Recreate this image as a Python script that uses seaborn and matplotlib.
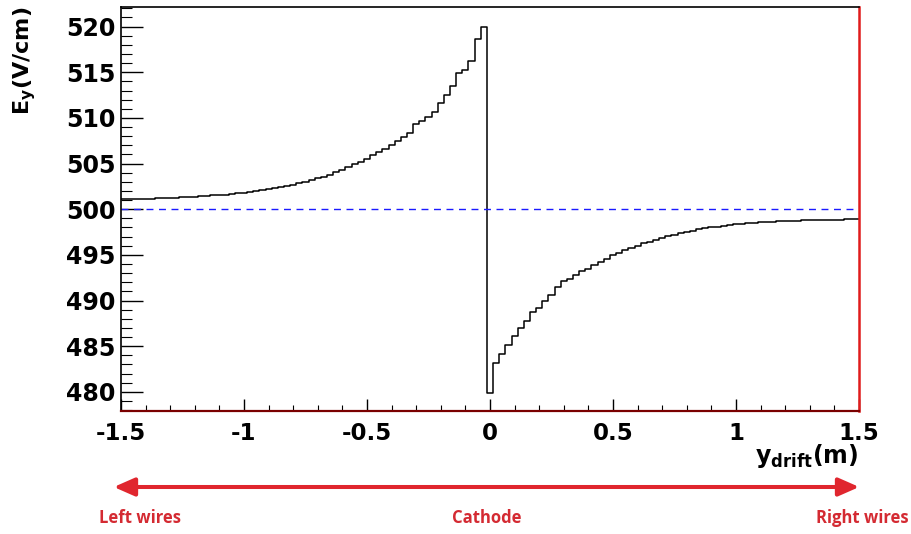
import numpy as np
import pandas as pd
import matplotlib
matplotlib.use("Agg")
import matplotlib.pyplot as plt
import seaborn as sns
from matplotlib.patches import FancyArrowPatch
from matplotlib.ticker import MultipleLocator

# ---- data (bin centres in m, field in V/cm) ----
left_centres = [round(-1.5 + 0.025 * i, 3) for i in range(60)]
left_values = [
    501.10, 501.11, 501.12, 501.13, 501.15, 501.16, 501.18, 501.21, 501.24, 501.27,
    501.30, 501.34, 501.38, 501.42, 501.46, 501.51, 501.56, 501.61, 501.67, 501.73,
    501.80, 501.88, 501.97, 502.07, 502.18, 502.30, 502.42, 502.55, 502.70, 502.85,
    503.02, 503.18, 503.38, 503.58, 503.80, 504.05, 504.35, 504.60, 504.90, 505.20,
    505.50, 505.90, 506.30, 506.60, 507.00, 507.45, 507.90, 508.30, 509.30, 509.70,
    510.10, 510.70, 511.60, 512.50, 513.50, 514.90, 515.20, 516.20, 518.60, 520.00,
]
cathode_centre = [0.0]
cathode_value = [479.85]
right_centres = [round(0.025 * (i + 1), 3) for i in range(60)]
right_values = [
    483.20, 484.15, 485.10, 486.10, 487.00, 487.80, 488.70, 489.20, 489.90, 490.60,
    491.45, 492.10, 492.40, 492.80, 493.20, 493.50, 493.90, 494.25, 494.60, 494.95,
    495.25, 495.50, 495.75, 496.00, 496.25, 496.45, 496.65, 496.85, 497.05, 497.20,
    497.35, 497.50, 497.65, 497.78, 497.90, 498.00, 498.10, 498.18, 498.26, 498.33,
    498.40, 498.45, 498.50, 498.55, 498.59, 498.63, 498.67, 498.70, 498.73, 498.76,
    498.78, 498.80, 498.82, 498.84, 498.85, 498.86, 498.87, 498.88, 498.89, 498.90,
]
nominal_field = 500.0
x_ticks = [-1.5, -1, -0.5, 0, 0.5, 1, 1.5]
x_tick_labels = ["-1.5", "-1", "-0.5", "0", "0.5", "1", "1.5"]
y_ticks = [480, 485, 490, 495, 500, 505, 510, 515, 520]
bottom_labels = ["Left wires", "Cathode", "Right wires"]

df = pd.DataFrame({
    "y_drift": left_centres + cathode_centre + right_centres,
    "Ey": left_values + cathode_value + right_values,
})

sns.set_style("ticks")
plt.rcParams["font.family"] = ["DejaVu Sans"]
plt.rcParams["mathtext.fontset"] = "dejavusans"
plt.rcParams["mathtext.default"] = "bf"
plt.rcParams["text.color"] = "black"
plt.rcParams["xtick.color"] = "black"
plt.rcParams["ytick.color"] = "black"

W, H = 912, 534
fig = plt.figure(figsize=(W / 100, H / 100), dpi=100)
ax = fig.add_axes([121 / W, 123 / H, 738 / W, 404 / H])

sns.lineplot(data=df, x="y_drift", y="Ey", ax=ax, color="black",
             linewidth=1.1, drawstyle="steps-mid", estimator=None, sort=True)
ax.axhline(nominal_field, color="#1a1aff", linewidth=1.0, dashes=(5, 4))

ax.set_xlim(-1.5, 1.5)
ax.set_ylim(477.9, 522.15)
ax.set_xticks(x_ticks)
ax.set_xticklabels(x_tick_labels)
ax.set_yticks(y_ticks)
ax.xaxis.set_minor_locator(MultipleLocator(0.1))
ax.yaxis.set_minor_locator(MultipleLocator(1))
ax.set_xlabel("")
ax.set_ylabel("")

ax.tick_params(axis="y", which="major", direction="in", length=15.8, width=1.0,
               labelsize=17, pad=4, right=False, colors="black")
ax.tick_params(axis="y", which="minor", direction="in", length=8, width=0.8, right=False,
               colors="black")
ax.tick_params(axis="x", which="major", direction="in", length=8.6, width=1.0,
               labelsize=16.5, pad=8, top=False, colors="black")
ax.tick_params(axis="x", which="minor", direction="in", length=4.3, width=0.8, top=False,
               colors="black")
for lab in ax.get_xticklabels() + ax.get_yticklabels():
    lab.set_fontweight("bold")
    lab.set_color("black")

for side in ["left", "top"]:
    ax.spines[side].set_visible(True)
    ax.spines[side].set_color("black")
    ax.spines[side].set_linewidth(1.2)
ax.spines["right"].set_visible(True)
ax.spines["right"].set_color("#e01b1b")
ax.spines["right"].set_linewidth(1.8)
ax.spines["bottom"].set_color("#7a0000")
ax.spines["bottom"].set_linewidth(1.6)

fig.text(25 / W, 1 - 7 / H, r"$E_y$(V/cm)", rotation=90, ha="center", va="top",
         fontsize=16, fontweight="bold", color="black")
fig.text(858 / W, 1 - 456 / H, r"$y_{drift}$(m)", ha="right", va="center",
         fontsize=17, fontweight="bold", color="black")

red = "#e0262e"
arrow = FancyArrowPatch((111 / W, 1 - 487 / H), (862 / W, 1 - 487 / H),
                        transform=fig.transFigure,
                        arrowstyle="<|-|>,head_length=1.25,head_width=0.55",
                        mutation_scale=10, linewidth=2.9, color=red)
fig.add_artist(arrow)

label_x = [140, 487, 862]
for lx, txt in zip(label_x, bottom_labels):
    fig.text(lx / W, 1 - 518 / H, txt, ha="center", va="center", fontsize=12,
             fontweight="bold", color="#d42a32", family=["Open Sans", "DejaVu Sans"])

fig.savefig("out.png", dpi=100)
